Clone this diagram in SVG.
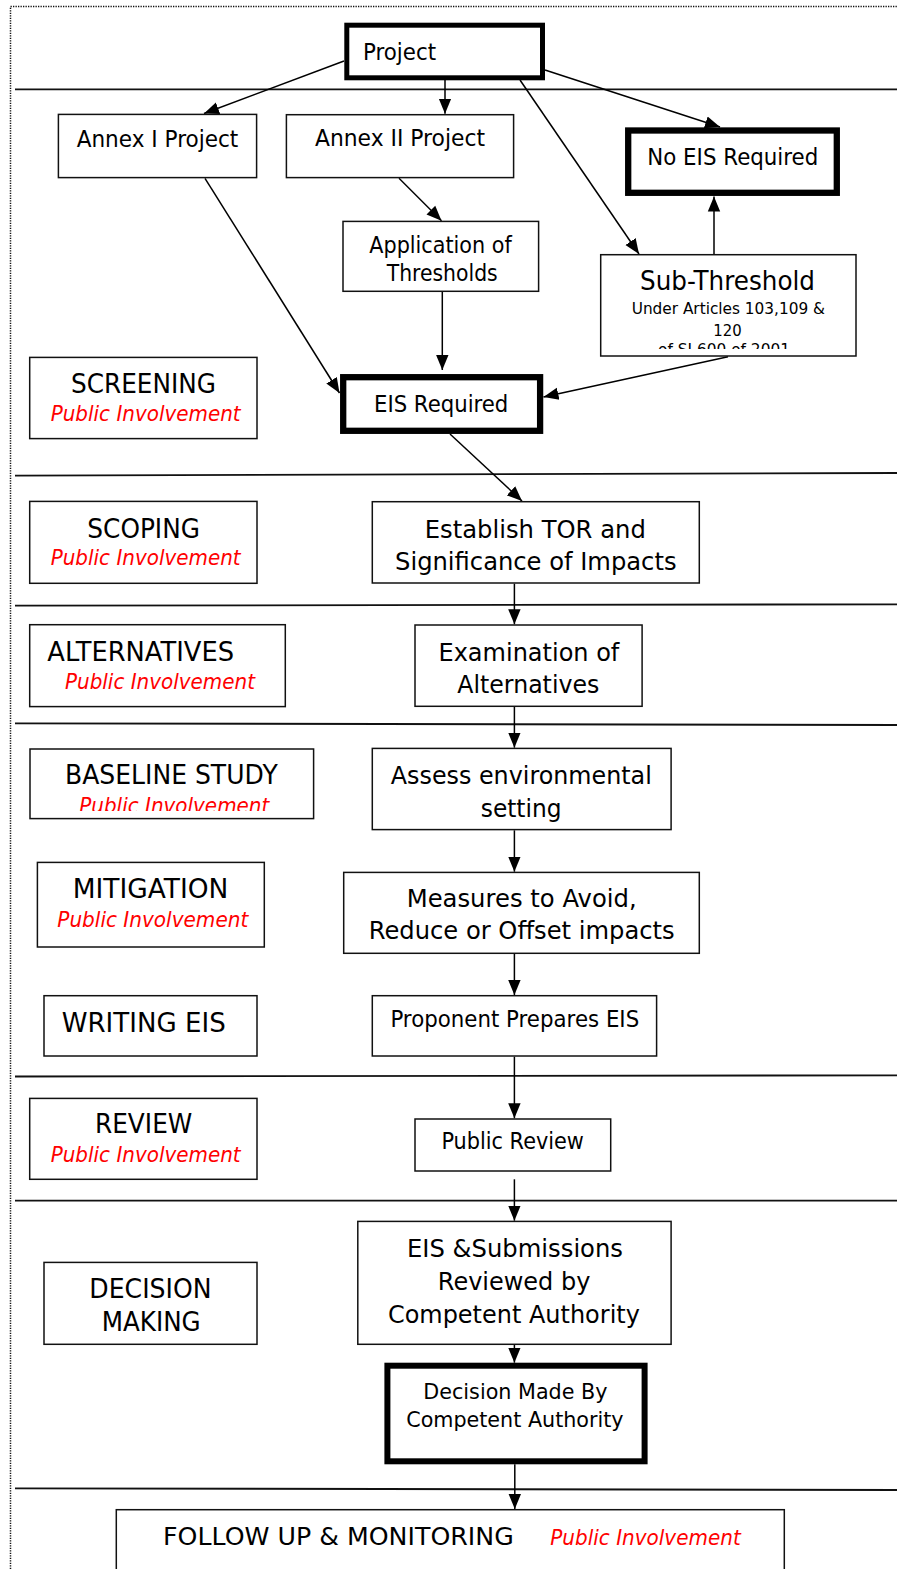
<svg xmlns="http://www.w3.org/2000/svg" width="897" height="1569" viewBox="0 0 897 1569">
<style>
.b{fill:#fff;stroke:#111;stroke-width:1.5}
.tk{fill:#fff;stroke:#000}
.t{font-family:"DejaVu Sans","Liberation Sans",sans-serif;fill:#000}
.pi{font-family:"DejaVu Sans","Liberation Sans",sans-serif;font-style:italic;fill:#ff0000;font-size:21.5px}
.sep{stroke:#111;stroke-width:1.8;fill:none}
.c{stroke:#000;stroke-width:1.5;fill:none;marker-end:url(#ah)}
</style>
<defs>
<marker id="ah" markerUnits="userSpaceOnUse" markerWidth="16" markerHeight="14" viewBox="0 0 16 14" refX="15" refY="7" orient="auto">
<path d="M0,0.8 L15,7 L0,13.2 z" fill="#000"/>
</marker>
<clipPath id="clipSub"><rect x="600" y="254" width="257" height="95"/></clipPath>
<clipPath id="clipBase"><rect x="29" y="748" width="286" height="63"/></clipPath>
</defs>
<rect width="897" height="1569" fill="#fff"/>
<path d="M10.5,1569 V6.5 H897" fill="none" stroke="#111" stroke-width="1.5" stroke-dasharray="1.3 1.2"/>
<g id="separators">
<line class="sep" x1="15" y1="89.3" x2="897" y2="89.3"/>
<line class="sep" x1="15" y1="475.7" x2="897" y2="473"/>
<line class="sep" x1="15" y1="605.7" x2="897" y2="604.3"/>
<line class="sep" x1="15" y1="723.3" x2="897" y2="725"/>
<line class="sep" x1="15" y1="1076.5" x2="897" y2="1075.3"/>
<line class="sep" x1="15" y1="1200.7" x2="897" y2="1200.7"/>
<line class="sep" x1="15" y1="1488.3" x2="897" y2="1490"/>
</g>
<g id="connectors">
<line class="c" x1="344" y1="61" x2="204" y2="113.5"/>
<line class="c" x1="445" y1="80" x2="445" y2="113.7"/>
<line class="c" x1="545" y1="70" x2="720" y2="127"/>
<line class="c" x1="520" y1="80" x2="639" y2="254"/>
<line class="c" x1="399" y1="178.3" x2="441.5" y2="220.7"/>
<line class="c" x1="442.3" y1="285" x2="442.3" y2="370"/>
<line class="c" x1="714" y1="254" x2="714" y2="196.5"/>
<line class="c" x1="728" y1="356.7" x2="543.5" y2="397"/>
<line class="c" x1="205" y1="178.3" x2="339.5" y2="393"/>
<line class="c" x1="450" y1="434" x2="522" y2="501"/>
<line class="c" x1="514.4" y1="583.7" x2="514.4" y2="624.3"/>
<line class="c" x1="514.4" y1="707" x2="514.4" y2="747.7"/>
<line class="c" x1="514.4" y1="830.3" x2="514.4" y2="871.7"/>
<line class="c" x1="514.4" y1="954" x2="514.4" y2="995"/>
<line class="c" x1="514.4" y1="1056.7" x2="514.4" y2="1118.3"/>
<line class="c" x1="514.4" y1="1179.3" x2="514.4" y2="1220.7"/>
<line class="c" x1="514.4" y1="1345" x2="514.4" y2="1362.7"/>
<line class="c" x1="514.8" y1="1464.3" x2="514.8" y2="1509"/>
</g>
<g id="project"><rect class="tk" stroke-width="5" x="346.8" y="25.2" width="195.7" height="52.6"/><text class="t" font-size="23.5" x="363" y="59.5" textLength="73" lengthAdjust="spacingAndGlyphs">Project</text></g>
<g id="annex1"><rect class="b" x="58.4" y="114.4" width="198.2" height="63.2"/><text class="t" font-size="23.5" x="76.7" y="146.7" textLength="161.6" lengthAdjust="spacingAndGlyphs">Annex I Project</text></g>
<g id="annex2"><rect class="b" x="286.4" y="114.7" width="227.2" height="62.9"/><text class="t" font-size="23.5" x="315" y="145.7" textLength="170" lengthAdjust="spacingAndGlyphs">Annex II Project</text></g>
<g id="noeis"><rect class="tk" stroke-width="6.3" x="628.2" y="130.5" width="208.6" height="62.3"/><text class="t" font-size="23.5" x="647.3" y="165" textLength="171" lengthAdjust="spacingAndGlyphs">No EIS Required</text></g>
<g id="application"><rect class="b" x="343" y="221.4" width="195.6" height="69.9"/><text class="t" font-size="23" x="369.3" y="252.7" textLength="142.4" lengthAdjust="spacingAndGlyphs">Application of</text><text class="t" font-size="23" x="386.7" y="281" textLength="111" lengthAdjust="spacingAndGlyphs">Thresholds</text></g>
<g id="subthreshold"><rect class="b" x="600.7" y="254.7" width="255.3" height="101.3"/><text class="t" font-size="27" x="640" y="290" textLength="175" lengthAdjust="spacingAndGlyphs">Sub-Threshold</text><text class="t" font-size="15.5" x="631.7" y="314" textLength="193.3" lengthAdjust="spacingAndGlyphs">Under Articles 103,109 &amp;</text><text class="t" font-size="15.5" x="713.3" y="335.7" textLength="28.4" lengthAdjust="spacingAndGlyphs">120</text><text class="t" font-size="15.5" x="658" y="355" textLength="132" lengthAdjust="spacingAndGlyphs" clip-path="url(#clipSub)">of SI 600 of 2001</text></g>
<g id="eisrequired"><rect class="tk" stroke-width="6.3" x="343.2" y="377.2" width="196.9" height="53.6"/><text class="t" font-size="23" x="374" y="411.7" textLength="134.3" lengthAdjust="spacingAndGlyphs">EIS Required</text></g>
<g id="screening"><rect class="b" x="29.7" y="357.4" width="227.3" height="81.2"/><text class="t" font-size="26" x="71" y="393.3" textLength="145" lengthAdjust="spacingAndGlyphs">SCREENING</text><text class="pi" x="50.7" y="420.7" textLength="190" lengthAdjust="spacingAndGlyphs">Public Involvement</text></g>
<g id="scoping"><rect class="b" x="29.7" y="501.4" width="227.3" height="81.9"/><text class="t" font-size="26" x="87.3" y="538.3" textLength="112.7" lengthAdjust="spacingAndGlyphs">SCOPING</text><text class="pi" x="50.7" y="565" textLength="190" lengthAdjust="spacingAndGlyphs">Public Involvement</text></g>
<g id="alternatives"><rect class="b" x="29.7" y="624.7" width="255.6" height="81.9"/><text class="t" font-size="26" x="47.3" y="661" textLength="186.7" lengthAdjust="spacingAndGlyphs">ALTERNATIVES</text><text class="pi" x="65" y="689.3" textLength="190" lengthAdjust="spacingAndGlyphs">Public Involvement</text></g>
<g id="baseline"><rect class="b" x="30" y="749" width="283.6" height="69.6"/><text class="t" font-size="26" x="65" y="784" textLength="212.7" lengthAdjust="spacingAndGlyphs">BASELINE STUDY</text><text class="pi" x="79.3" y="813" textLength="190" lengthAdjust="spacingAndGlyphs" clip-path="url(#clipBase)">Public Involvement</text></g>
<g id="mitigation"><rect class="b" x="37.4" y="862.4" width="226.9" height="84.6"/><text class="t" font-size="26" x="72.7" y="898.3" textLength="155.7" lengthAdjust="spacingAndGlyphs">MITIGATION</text><text class="pi" x="57.3" y="926.7" textLength="191" lengthAdjust="spacingAndGlyphs">Public Involvement</text></g>
<g id="writing"><rect class="b" x="44" y="995.7" width="213" height="60.3"/><text class="t" font-size="26" x="61.7" y="1031.7" textLength="164" lengthAdjust="spacingAndGlyphs">WRITING EIS</text></g>
<g id="review"><rect class="b" x="29.7" y="1098.4" width="227.3" height="80.9"/><text class="t" font-size="26" x="95" y="1133.3" textLength="97.3" lengthAdjust="spacingAndGlyphs">REVIEW</text><text class="pi" x="50.7" y="1161.7" textLength="190" lengthAdjust="spacingAndGlyphs">Public Involvement</text></g>
<g id="decisionmaking"><rect class="b" x="44" y="1262.4" width="213" height="81.9"/><text class="t" font-size="26" x="89.3" y="1298.3" textLength="122.3" lengthAdjust="spacingAndGlyphs">DECISION</text><text class="t" font-size="26" x="101.7" y="1331" textLength="99" lengthAdjust="spacingAndGlyphs">MAKING</text></g>
<g id="tor"><rect class="b" x="372.3" y="501.7" width="327" height="81.3"/><text class="t" font-size="25.5" x="424.8" y="537.7" textLength="221" lengthAdjust="spacingAndGlyphs">Establish TOR and</text><text class="t" font-size="25.5" x="395.1" y="570" textLength="281.4" lengthAdjust="spacingAndGlyphs">Significance of Impacts</text></g>
<g id="examination"><rect class="b" x="415" y="625" width="227.1" height="81.3"/><text class="t" font-size="25.5" x="438.5" y="660.7" textLength="180.8" lengthAdjust="spacingAndGlyphs">Examination of</text><text class="t" font-size="25.5" x="457.3" y="693.3" textLength="142" lengthAdjust="spacingAndGlyphs">Alternatives</text></g>
<g id="assess"><rect class="b" x="372.3" y="748.4" width="298.8" height="81.2"/><text class="t" font-size="25.5" x="390.8" y="784" textLength="261" lengthAdjust="spacingAndGlyphs">Assess environmental</text><text class="t" font-size="25.5" x="480.8" y="816.5" textLength="80.7" lengthAdjust="spacingAndGlyphs">setting</text></g>
<g id="measures"><rect class="b" x="343.7" y="872.4" width="355.6" height="80.9"/><text class="t" font-size="25.5" x="406.7" y="906.7" textLength="230" lengthAdjust="spacingAndGlyphs">Measures to Avoid,</text><text class="t" font-size="25.5" x="368.7" y="939.3" textLength="306" lengthAdjust="spacingAndGlyphs">Reduce or Offset impacts</text></g>
<g id="proponent"><rect class="b" x="372.3" y="995.7" width="284.3" height="60.3"/><text class="t" font-size="23" x="390.4" y="1026.7" textLength="248.8" lengthAdjust="spacingAndGlyphs">Proponent Prepares EIS</text></g>
<g id="publicreview"><rect class="b" x="415" y="1119" width="195.7" height="52"/><text class="t" font-size="23" x="441.4" y="1149.3" textLength="142.5" lengthAdjust="spacingAndGlyphs">Public Review</text></g>
<g id="eissubmissions"><rect class="b" x="357.8" y="1221.4" width="313.3" height="122.9"/><text class="t" font-size="25.5" x="407" y="1256.7" textLength="216" lengthAdjust="spacingAndGlyphs">EIS &amp;Submissions</text><text class="t" font-size="25.5" x="437.8" y="1289.5" textLength="152.6" lengthAdjust="spacingAndGlyphs">Reviewed by</text><text class="t" font-size="25.5" x="387.9" y="1322.7" textLength="252" lengthAdjust="spacingAndGlyphs">Competent Authority</text></g>
<g id="decisionmade"><rect class="tk" stroke-width="6" x="387.4" y="1365.7" width="257.2" height="95.6"/><text class="t" font-size="21.5" x="423.3" y="1399" textLength="184.2" lengthAdjust="spacingAndGlyphs">Decision Made By</text><text class="t" font-size="21.5" x="406.2" y="1427.3" textLength="217.4" lengthAdjust="spacingAndGlyphs">Competent Authority</text></g>
<g id="followup"><rect class="b" x="116.3" y="1509.7" width="668" height="80"/><text class="t" font-size="25" x="163" y="1545" textLength="350.7" lengthAdjust="spacingAndGlyphs">FOLLOW UP &amp; MONITORING</text><text class="pi" x="550.3" y="1545" textLength="190.5" lengthAdjust="spacingAndGlyphs">Public Involvement</text></g>
</svg>
